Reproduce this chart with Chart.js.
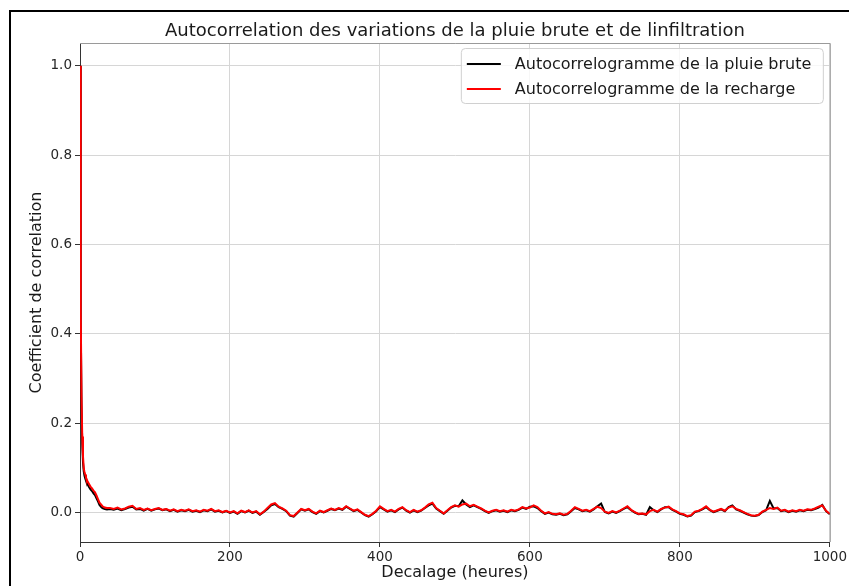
<!DOCTYPE html>
<html>
<head>
<meta charset="utf-8">
<script src="https://cdn.jsdelivr.net/npm/chart.js@4/dist/chart.umd.min.js"></script>
<style>
  html, body { margin: 0; padding: 0; background: #fff; overflow: hidden; }
  canvas { display: block; }
</style>
</head>
<body>
<canvas id="c" width="849" height="586"></canvas>
<script>
// Texts
const chartTitle = 'Autocorrelation des variations de la pluie brute et de linfiltration';
const xTitle = 'Decalage (heures)';
const yTitle = 'Coefficient de correlation';
const seriesNames = ['Autocorrelogramme de la pluie brute', 'Autocorrelogramme de la recharge'];

// Lags (hours)
const lags = [
  0, 1, 2, 3, 4, 5, 6, 7, 8, 9, 10, 12, 14, 16, 18, 20, 22, 24, 26, 28, 30, 33, 36,
  40, 45, 50, 55, 60, 65, 70, 75, 80, 85,
  90, 95, 100, 105, 110, 115, 120, 125, 130, 135,
  140, 145, 150, 155, 160, 165, 170, 175, 180, 185,
  190, 195, 200, 205, 210, 215, 220, 225, 230, 235,
  240, 245, 250, 255, 260, 265, 270, 275, 280, 285,
  290, 295, 300, 305, 310, 315, 320, 325, 330, 335,
  340, 345, 350, 355, 360, 365, 370, 375, 380, 385,
  390, 395, 400, 405, 410, 415, 420, 425, 430, 435,
  440, 445, 450, 455, 460, 465, 470, 475, 480, 485,
  490, 495, 500, 505, 510, 515, 520, 525, 530, 535,
  540, 545, 550, 555, 560, 565, 570, 575, 580, 585,
  590, 595, 600, 605, 610, 615, 620, 625, 630, 635,
  640, 645, 650, 655, 660, 665, 670, 675, 680, 685,
  690, 695, 700, 705, 710, 715, 720, 725, 730, 735,
  740, 745, 750, 755, 760, 765, 770, 775, 780, 785,
  790, 795, 800, 805, 810, 815, 820, 825, 830, 835,
  840, 845, 850, 855, 860, 865, 870, 875, 880, 885,
  890, 895, 900, 905, 910, 915, 920, 925, 930, 935,
  940, 945, 950, 955, 960, 965, 970, 975, 980, 985,
  990, 995, 1000
];

// Autocorrelation of raw rainfall
const pluieBrute = [
  1.0, 0.43, 0.24, 0.155, 0.112, 0.092, 0.082, 0.076, 0.071, 0.067, 0.063, 0.057, 0.052, 0.048, 0.043, 0.039, 0.032, 0.025, 0.017, 0.013, 0.010, 0.008, 0.007,
  0.008, 0.006, 0.009, 0.005, 0.008, 0.011, 0.013, 0.007, 0.008, 0.004,
  0.008, 0.004, 0.007, 0.009, 0.005, 0.007, 0.003, 0.006, 0.002, 0.005,
  0.003, 0.006, 0.002, 0.004, 0.001, 0.005, 0.003, 0.007, 0.002, 0.004,
  0.000, 0.003, -0.001, 0.002, -0.003, 0.003, 0.000, 0.004, -0.001, 0.002,
  -0.005, 0.001, 0.008, 0.016, 0.019, 0.012, 0.008, 0.003, -0.007, -0.009,
  -0.001, 0.007, 0.004, 0.007, 0.001, -0.003, 0.003, 0.000, 0.004, 0.008,
  0.005, 0.009, 0.006, 0.013, 0.008, 0.003, 0.006, 0.000, -0.006, -0.009,
  -0.004, 0.003, 0.012, 0.007, 0.002, 0.005, 0.001, 0.007, 0.011, 0.004,
  0.000, 0.005, 0.001, 0.004, 0.010, 0.016, 0.020, 0.009, 0.003, -0.003,
  0.004, 0.011, 0.015, 0.014, 0.027, 0.018, 0.012, 0.016, 0.012, 0.008,
  0.003, -0.001, 0.003, 0.005, 0.002, 0.004, 0.001, 0.005, 0.003, 0.006,
  0.011, 0.008, 0.013, 0.014, 0.010, 0.003, -0.003, 0.000, -0.004, -0.005,
  -0.003, -0.006, -0.004, 0.003, 0.010, 0.007, 0.003, 0.005, 0.002, 0.007,
  0.014, 0.020, 0.001, -0.002, 0.002, -0.001, 0.003, 0.008, 0.012, 0.005,
  0.000, -0.004, -0.003, -0.005, 0.012, 0.005, 0.001, 0.007, 0.012, 0.012,
  0.006, 0.002, -0.003, -0.005, -0.009, -0.007, 0.001, 0.003, 0.007, 0.012,
  0.005, 0.001, 0.004, 0.007, 0.003, 0.012, 0.016, 0.007, 0.004, 0.000,
  -0.004, -0.007, -0.008, -0.006, 0.001, 0.005, 0.026, 0.009, 0.010, 0.003,
  0.005, 0.001, 0.004, 0.002, 0.005, 0.003, 0.006, 0.005, 0.008, 0.011,
  0.017, 0.003, -0.004
];

// Autocorrelation of recharge
const recharge = [
  1.0, 0.45, 0.26, 0.17, 0.125, 0.10, 0.09, 0.085, 0.078, 0.074, 0.070, 0.064, 0.058, 0.054, 0.049, 0.045, 0.038, 0.030, 0.022, 0.018, 0.014, 0.011, 0.010,
  0.010, 0.008, 0.011, 0.007, 0.009, 0.013, 0.015, 0.008, 0.010, 0.006,
  0.009, 0.005, 0.008, 0.010, 0.006, 0.008, 0.004, 0.007, 0.003, 0.006,
  0.004, 0.007, 0.003, 0.005, 0.002, 0.006, 0.004, 0.008, 0.003, 0.005,
  0.001, 0.004, 0.000, 0.003, -0.002, 0.004, 0.001, 0.005, 0.000, 0.003,
  -0.004, 0.002, 0.010, 0.018, 0.021, 0.013, 0.009, 0.004, -0.006, -0.008,
  0.000, 0.008, 0.005, 0.008, 0.002, -0.002, 0.004, 0.001, 0.005, 0.009,
  0.006, 0.010, 0.007, 0.014, 0.009, 0.004, 0.007, 0.001, -0.005, -0.008,
  -0.003, 0.004, 0.014, 0.008, 0.003, 0.006, 0.002, 0.008, 0.012, 0.005,
  0.001, 0.006, 0.002, 0.005, 0.011, 0.018, 0.022, 0.010, 0.004, -0.002,
  0.005, 0.012, 0.016, 0.013, 0.018, 0.020, 0.014, 0.017, 0.013, 0.009,
  0.004, 0.000, 0.004, 0.006, 0.003, 0.005, 0.002, 0.006, 0.004, 0.007,
  0.012, 0.009, 0.011, 0.016, 0.012, 0.004, -0.002, 0.001, -0.003, -0.004,
  -0.002, -0.005, -0.003, 0.004, 0.012, 0.008, 0.004, 0.006, 0.003, 0.008,
  0.013, 0.010, 0.002, -0.001, 0.003, 0.000, 0.004, 0.009, 0.014, 0.006,
  0.001, -0.003, -0.002, -0.004, 0.003, 0.006, 0.002, 0.008, 0.011, 0.013,
  0.007, 0.003, -0.002, -0.004, -0.008, -0.006, 0.002, 0.004, 0.008, 0.014,
  0.006, 0.002, 0.005, 0.008, 0.004, 0.011, 0.014, 0.008, 0.005, 0.001,
  -0.003, -0.006, -0.007, -0.005, 0.002, 0.006, 0.010, 0.008, 0.011, 0.004,
  0.006, 0.002, 0.005, 0.003, 0.006, 0.004, 0.007, 0.006, 0.009, 0.013,
  0.016, 0.004, -0.003
];

// Axis ticks
const xTickValues = [0, 200, 400, 600, 800, 1000];
const xTickLabels = ['0', '200', '400', '600', '800', '1000'];
const yTickValues = [0.0, 0.2, 0.4, 0.6, 0.8, 1.0];
const yTickLabels = ['0.0', '0.2', '0.4', '0.6', '0.8', '1.0'];

const FONT = 'DejaVu Sans';

const toPoints = ys => lags.map((x, i) => ({ x: x, y: ys[i] }));

// Outer frame, drawn before everything else
const frame = {
  id: 'frame',
  beforeDraw(chart) {
    const ctx = chart.ctx;
    ctx.save();
    ctx.fillStyle = '#ffffff';
    ctx.fillRect(0, 0, chart.width, chart.height);
    ctx.fillStyle = '#000000';
    ctx.fillRect(9, 10, chart.width - 9, 2);
    ctx.fillRect(9, 10, 2, chart.height - 10);
    ctx.restore();
  }
};

// Title, top/right spines and the in-plot legend
const decorations = {
  id: 'decorations',
  afterDraw(chart) {
    const ctx = chart.ctx;
    const a = chart.chartArea;
    ctx.save();

    // light top and right spines
    ctx.strokeStyle = '#9a9a9a';
    ctx.lineWidth = 1;
    ctx.beginPath();
    ctx.moveTo(a.left, a.top + 0.5);
    ctx.lineTo(a.right + 0.5, a.top + 0.5);
    ctx.lineTo(a.right + 0.5, a.bottom);
    ctx.stroke();

    // title
    ctx.fillStyle = '#1a1a1a';
    ctx.font = '18px "' + FONT + '"';
    ctx.textAlign = 'center';
    ctx.textBaseline = 'middle';
    ctx.fillText(chartTitle, (a.left + a.right) / 2, 31);

    // legend box
    const bw = 362, bh = 55;
    const bx = a.right - 7 - bw, by = a.top + 5;
    ctx.fillStyle = 'rgba(255,255,255,0.8)';
    ctx.strokeStyle = '#d0d0d0';
    ctx.beginPath();
    ctx.roundRect(bx + 0.5, by + 0.5, bw, bh, 4);
    ctx.fill();
    ctx.stroke();

    ctx.font = '16px "' + FONT + '"';
    ctx.textAlign = 'left';
    chart.data.datasets.forEach((ds, i) => {
      const cy = by + 16 + i * 25;
      ctx.strokeStyle = ds.borderColor;
      ctx.lineWidth = 2;
      ctx.beginPath();
      ctx.moveTo(bx + 6, cy);
      ctx.lineTo(bx + 40, cy);
      ctx.stroke();
      ctx.fillStyle = '#1a1a1a';
      ctx.fillText(ds.label, bx + 54, cy + 1);
    });
    ctx.restore();
  }
};

new Chart(document.getElementById('c'), {
  type: 'line',
  data: {
    datasets: [
      { label: seriesNames[0], data: toPoints(pluieBrute), borderColor: '#000000',
        borderWidth: 2, pointRadius: 0, tension: 0, order: 1 },
      { label: seriesNames[1], data: toPoints(recharge), borderColor: '#ff0000',
        borderWidth: 2, pointRadius: 0, tension: 0, order: 0 }
    ]
  },
  options: {
    responsive: false,
    animation: false,
    devicePixelRatio: 1,
    layout: { padding: { left: 0, top: 43, right: 17, bottom: 0 } },
    plugins: { legend: { display: false }, title: { display: false }, tooltip: { enabled: false } },
    scales: {
      x: {
        type: 'linear', min: 0, max: 1000,
        afterBuildTicks: s => { s.ticks = xTickValues.map(v => ({ value: v })); },
        afterFit: s => { s.height = 44; },
        grid: { color: '#d6d6d6', lineWidth: 1, tickLength: 5, tickColor: '#333333' },
        border: { color: '#333333', width: 1 },
        ticks: {
          font: { family: FONT, size: 13.5 }, color: '#262626', padding: 2, maxRotation: 0,
          callback: v => xTickLabels[xTickValues.indexOf(v)]
        },
        title: { display: true, text: xTitle, font: { family: FONT, size: 16 }, color: '#1a1a1a',
                 padding: { top: 0, bottom: 4 } }
      },
      y: {
        type: 'linear', min: -0.066, max: 1.0508,
        afterBuildTicks: s => { s.ticks = yTickValues.map(v => ({ value: v })); },
        afterFit: s => { s.width = 80; },
        grid: { color: '#d6d6d6', lineWidth: 1, tickLength: 5, tickColor: '#333333' },
        border: { color: '#333333', width: 1 },
        ticks: {
          font: { family: FONT, size: 13.5 }, color: '#262626', padding: 3,
          callback: v => yTickLabels[yTickValues.findIndex(t => Math.abs(t - v) < 1e-9)]
        },
        title: { display: true, text: yTitle, font: { family: FONT, size: 16 }, color: '#1a1a1a',
                 padding: { top: 27, bottom: 0 } }
      }
    }
  },
  plugins: [frame, decorations]
});
</script>
</body>
</html>
